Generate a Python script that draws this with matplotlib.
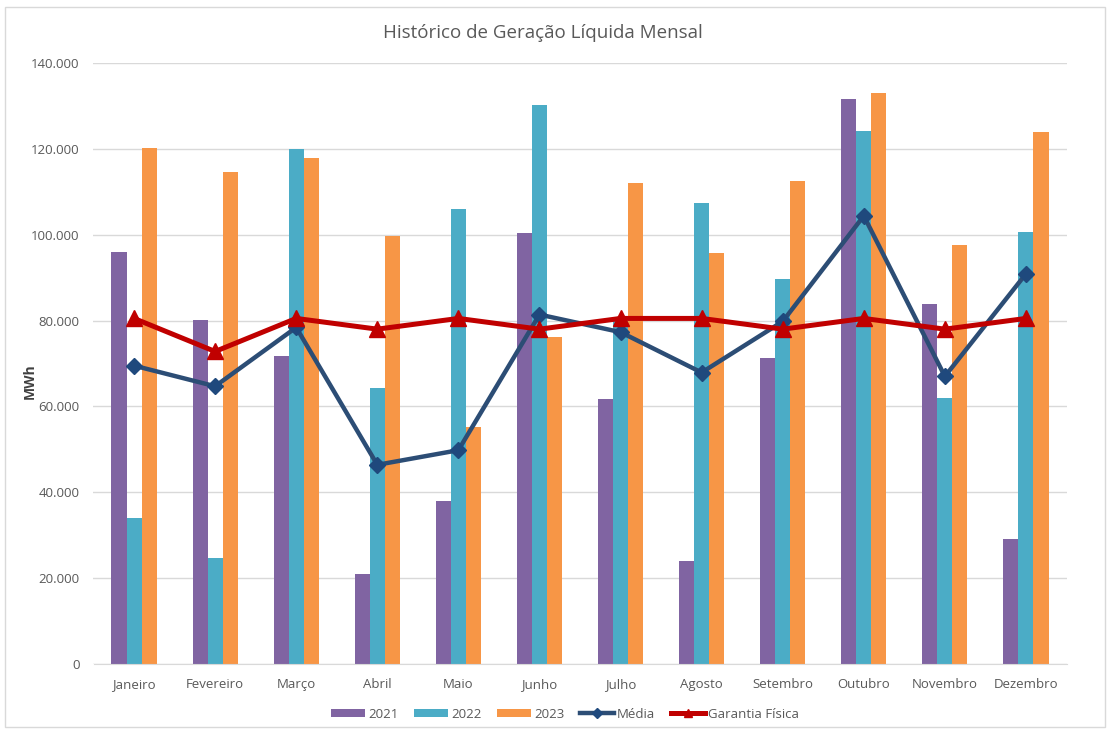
import matplotlib
matplotlib.use("Agg")
import matplotlib.pyplot as plt
import numpy as np
from matplotlib.ticker import FuncFormatter
from matplotlib.patches import Rectangle
from matplotlib.lines import Line2D

months = ["Janeiro", "Fevereiro", "Março", "Abril", "Maio", "Junho",
          "Julho", "Agosto", "Setembro", "Outubro", "Novembro", "Dezembro"]
gen_2021 = [96000, 80200, 71700, 21000, 37900, 100300, 61700, 23900, 71200, 131700, 83900, 29100]
gen_2022 = [34100, 24800, 119900, 64400, 106000, 130200, 80000, 107400, 89700, 124200, 62000, 100600]
gen_2023 = [120300, 114700, 117900, 99800, 55300, 76200, 112100, 95700, 112400, 133000, 97500, 124000]
media = [69500, 64700, 78400, 46400, 49800, 81400, 77300, 67900, 79800, 104400, 67000, 90900]
garantia = [80500, 72800, 80500, 78000, 80500, 78000, 80500, 80500, 78000, 80500, 78000, 80500]

plt.rcParams["font.family"] = ["Open Sans", "DejaVu Sans"]

figure = plt.figure(figsize=(11.13, 7.31), dpi=100)
axis = figure.add_axes([93.5 / 1113, 1 - 664 / 731, 973 / 1113, 601 / 731])
figure.patches.append(Rectangle((5 / 1113, 4 / 731), 1100 / 1113, 720 / 731, transform=figure.transFigure,
                                fill=False, edgecolor="#D9D9D9", linewidth=1))

x = np.arange(len(months))
width = 0.186
bars = [
    axis.bar(x - width, gen_2021, width, color="#8064A2", label="2021", zorder=2),
    axis.bar(x, gen_2022, width, color="#4BACC6", label="2022", zorder=2),
    axis.bar(x + width, gen_2023, width, color="#F79646", label="2023", zorder=2),
]
axis.plot(x, media, color="#2C4D75", linewidth=3.2, marker="D", markersize=8,
          markerfacecolor="#1F497D", markeredgecolor="#1F497D", zorder=3)
axis.plot(x, garantia, color="#C00000", linewidth=3.6, marker="^", markersize=11,
          markerfacecolor="#C00000", markeredgecolor="#C00000", zorder=4)

axis.set_xlim(-0.5, len(months) - 0.5)
axis.set_ylim(0, 140000)
axis.set_yticks(np.arange(0, 140001, 20000))
axis.yaxis.set_major_formatter(FuncFormatter(lambda v, p: f"{int(v):,}".replace(",", ".")))
axis.set_xticks(x, months)
axis.tick_params(axis="both", length=0, labelsize=9.5, labelcolor="#595959")
axis.tick_params(axis="x", pad=10)
axis.tick_params(axis="y", pad=10)
axis.grid(axis="y", color="#D9D9D9", linewidth=1, zorder=0)
axis.set_axisbelow(True)
for side in ["top", "right", "left"]:
    axis.spines[side].set_visible(False)
axis.spines["bottom"].set_color("#D9D9D9")
axis.set_ylabel("MWh", fontsize=10, fontweight="bold", color="#404040")
axis.yaxis.set_label_coords((37 - 93.5) / 973, 0.47)
figure.text(0.5 * (384 + 702) / 1113, 1 - 33 / 731, "Histórico de Geração Líquida Mensal",
            ha="center", va="center", fontsize=13.5, color="#595959")

line_handles = [
    Line2D([], [], color="#2C4D75", linewidth=3.2, marker="D", markersize=5,
           markerfacecolor="#1F497D", markeredgecolor="#1F497D"),
    Line2D([], [], color="#C00000", linewidth=3.6, marker="^", markersize=6,
           markerfacecolor="#C00000", markeredgecolor="#C00000"),
]
figure.legend(bars + line_handles, ["2021", "2022", "2023", "Média", "Garantia Física"],
              loc="center", bbox_to_anchor=(565 / 1113, 1 - 714 / 731), ncol=5, frameon=False,
              fontsize=9.5, handlelength=2.6, handleheight=0.5, columnspacing=1.2, handletextpad=0.2,
              labelcolor="#595959")

figure.savefig("out.png", dpi=100)
plt.close(figure)
